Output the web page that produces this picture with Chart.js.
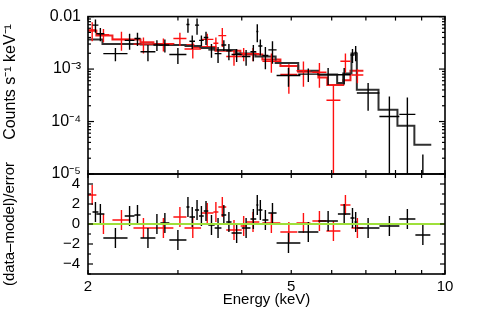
<!DOCTYPE html>
<html><head><meta charset="utf-8">
<script src="https://cdn.jsdelivr.net/npm/chart.js@4.4.1/dist/chart.umd.min.js"></script>
<style>
html,body{margin:0;padding:0;background:#fff;}
#wrap{position:relative;width:491px;height:316px;}
canvas{position:absolute;left:0;top:0;}
</style></head><body>
<div id="wrap"><canvas id="top" width="491" height="316"></canvas><canvas id="bot" width="491" height="316"></canvas></div>
<script>
// ---- data (energies in keV, rates in counts s^-1 keV^-1) ----
const blackLo = [2.041,2.077,2.143,2.36,2.466,2.534,2.686,2.772,2.886,3.117,3.16,3.24,3.30,3.37,3.44,3.54,3.65,3.73,3.82,4.00,4.16,4.27,4.31,4.39,4.51,4.68,5.16,5.65,6.17,6.53,6.65,6.72,7.44,8.14,8.75];
const blackHi = [2.096,2.153,2.390,2.466,2.534,2.710,2.772,2.886,3.117,3.16,3.24,3.30,3.37,3.44,3.54,3.65,3.73,3.82,4.00,4.16,4.27,4.31,4.39,4.51,4.68,5.21,5.65,6.17,6.53,6.65,6.72,7.44,8.14,8.75,9.36];
const blackRate = [6.87e-3,4.72e-3,1.97e-3,3.53e-3,3.83e-3,2.14e-3,2.87e-3,2.87e-3,1.89e-3,7.06e-3,3.38e-3,6.87e-3,3.53e-3,4.0e-3,2.32e-3,1.97e-3,2.87e-3,2.23e-3,1.89e-3,1.74e-3,2.14e-3,5.2e-3,2.75e-3,1.81e-3,2.32e-3,7.54e-4,8.0e-4,7.75e-4,7.8e-4,1.86e-3,2.08e-3,3.5e-4,1.25e-4,1.37e-4,5e-6];
const blackErr = [1.95e-3,1.34e-3,0.56e-3,1.19e-3,1.09e-3,0.73e-3,0.66e-3,0.80e-3,0.64e-3,2.14e-3,0.96e-3,2.34e-3,0.81e-3,1.13e-3,0.67e-3,0.66e-3,0.66e-3,0.76e-3,0.53e-3,0.58e-3,0.73e-3,1.95e-3,0.93e-3,0.82e-3,1.06e-3,2.96e-4,2.3e-4,2.76e-4,2.7e-4,0.56e-3,0.67e-3,1.9e-4,1.75e-4,1.51e-4,1.86e-5];
const blackResid = [1.2,1.0,-1.4,0.8,0.9,-1.4,0.0,0.1,-1.6,1.7,0.7,1.4,0.8,1.3,-0.1,-0.4,0.9,0.2,-0.9,-0.4,0.5,1.9,1.4,0.4,1.1,-1.9,-0.8,0.3,1.0,0.6,0.2,-0.4,-0.2,0.5,-1.1];

const redLo = [2.0,2.09,2.233,2.455,2.686,2.939,3.09,3.33,3.52,3.60,3.73,3.98,4.09,4.39,4.76,5.12,5.50,5.86,6.24,6.56];
const redHi = [2.077,2.20,2.422,2.686,2.939,3.117,3.33,3.52,3.60,3.73,4.00,4.09,4.33,4.76,5.14,5.45,5.86,6.24,6.53,6.92];
const redRate = [5.58e-3,4.53e-3,3.68e-3,2.99e-3,2.99e-3,3.83e-3,2.42e-3,3.68e-3,3.11e-3,4.34e-3,1.74e-3,1.97e-3,1.97e-3,1.41e-3,7.9e-4,9.3e-4,8.7e-4,2.55e-4,1.41e-3,7.7e-4];
const redErr = [2.2e-3,1.28e-3,1.45e-3,1.0e-3,0.84e-3,1.09e-3,0.83e-3,1.04e-3,0.89e-3,1.72e-3,0.58e-3,0.56e-3,0.56e-3,0.56e-3,4.5e-4,4.7e-4,4.3e-4,2.45e-4,5.6e-4,2.35e-4];
const redResid = [2.9,0.0,0.4,-0.4,-0.4,0.7,-0.4,1.1,1.2,1.7,-0.6,-0.2,0.2,0.1,-0.8,0.1,0.3,-0.7,1.9,-0.4];

const blackModelEdges = [2.0,2.135,2.534,2.772,3.104,3.320,3.552,3.889,4.254,4.66,5.16,5.65,6.15,6.32,6.56,6.72,7.41,8.07,8.71,9.40];
const blackModelValues = [3.68e-3,2.99e-3,2.95e-3,2.87e-3,2.75e-3,2.53e-3,2.32e-3,1.97e-3,1.74e-3,1.30e-3,9.28e-4,7.86e-4,5.40e-4,8.19e-4,1.97e-3,4.05e-4,1.68e-4,8.3e-5,3.6e-5];
const redModelEdges = [2.0,2.077,2.233,2.534,2.686,2.939,3.217,3.552,3.976,4.390,4.762,5.16,5.65,5.883,6.32,6.53,6.922];
const redModelValues = [5.35e-3,4.34e-3,3.68e-3,3.25e-3,2.99e-3,2.87e-3,2.63e-3,2.23e-3,1.89e-3,1.53e-3,1.14e-3,8.90e-4,6.94e-4,4.99e-4,6.13e-4,9.28e-4];

const xTickValues = [2,5,10];
const xTickLabels = ['2','5','10'];
const xMinorValues = [3,4,6,7,8,9];
const topYTickValues = [1e-2,1e-3,1e-4,1e-5];
const topYTickLabels = ['0.01','10\u207B\u00B3','10\u207B\u2074','10\u207B\u2075'];
const residTickValues = [4,2,0,-2,-4];
const residTickLabels = ['4','2','0','\u22122','\u22124'];
const residMinorValues = [5,3,1,-1,-3,-5];

// ---- helpers ----
const FONT = "'Liberation Sans', Arial, Helvetica, sans-serif";
function crosses(lo, hi, val, err, floor) {
  const pts = [];
  for (let i = 0; i < lo.length; i++) {
    const c = Math.sqrt(lo[i] * hi[i]);
    pts.push({x: lo[i], y: val[i]}, {x: hi[i], y: val[i]}, {x: c, y: null});
    pts.push({x: c, y: Math.max(val[i] - err[i], floor)}, {x: c, y: val[i] + err[i]}, {x: c, y: null});
  }
  return pts;
}
function steps(edges, vals) {
  const pts = [];
  for (let i = 0; i < vals.length; i++) {
    pts.push({x: edges[i], y: vals[i]}, {x: edges[i + 1], y: vals[i]});
  }
  return pts;
}
function frame(yMajor, yMinor, yMajLen, yMinLen) {
  return {
    id: 'frame',
    afterDatasetsDraw(chart) {
      const {ctx, chartArea: a, scales} = chart;
      ctx.save();
      ctx.strokeStyle = '#000';
      ctx.lineWidth = 1.2;
      const seg = (x1, y1, x2, y2) => { ctx.beginPath(); ctx.moveTo(x1, y1); ctx.lineTo(x2, y2); ctx.stroke(); };
      xTickValues.concat(xMinorValues).forEach(v => {
        const px = scales.x.getPixelForValue(v);
        seg(px, a.bottom, px, a.bottom - 4);
        seg(px, a.top, px, a.top + 4);
      });
      const yt = (v, len) => {
        const py = scales.y.getPixelForValue(v);
        seg(a.left, py, a.left + len, py);
        seg(a.right, py, a.right - len, py);
      };
      yMajor.forEach(v => yt(v, yMajLen));
      yMinor.forEach(v => yt(v, yMinLen));
      ctx.lineWidth = 1.6;
      ctx.strokeRect(a.left, a.top, a.right - a.left, a.bottom - a.top);
      ctx.restore();
    }
  };
}
const logMinor = [];
[1e-5, 1e-4, 1e-3].forEach(d => { for (let k = 2; k <= 9; k++) logMinor.push(d * k); });

const common = {
  responsive: false, animation: false, events: [],
  plugins: {legend: {display: false}, tooltip: {enabled: false}},
  elements: {point: {radius: 0, hoverRadius: 0}, line: {tension: 0, borderCapStyle: 'butt', fill: false}},
  spanGaps: false
};
const tickFont = {family: FONT, size: 15};
const titleFont = {family: FONT, size: 15};

new Chart(document.getElementById('top'), {
  type: 'line',
  data: {datasets: [
    {data: crosses(blackLo, blackHi, blackRate, blackErr, 1e-8), borderColor: '#000', borderWidth: 1.4, order: 1},
    {data: crosses(redLo, redHi, redRate, redErr, 1e-8), borderColor: '#ff1010', borderWidth: 1.4, order: 2},
    {data: steps(blackModelEdges, blackModelValues), borderColor: '#303030', borderWidth: 2, order: 3},
    {data: steps(redModelEdges, redModelValues), borderColor: '#f02020', borderWidth: 2, order: 4}
  ]},
  options: Object.assign({}, common, {
    layout: {padding: {top: 8, right: 46, bottom: 142, left: 0}},
    scales: {
      x: {type: 'logarithmic', min: 2, max: 10, display: false},
      y: {type: 'logarithmic', min: 1e-5, max: 1e-2,
        afterFit: s => { s.width = 88; },
        afterBuildTicks: s => { s.ticks = topYTickValues.map(v => ({value: v})); },
        grid: {display: false, drawTicks: false}, border: {display: false},
        ticks: {padding: 7, font: {family: FONT, size: 16}, color: '#000', autoSkip: false, callback: (v, i) => topYTickLabels[i]},
        title: {display: true, text: '      Counts s\u207B\u00B9 keV\u207B\u00B9', font: {family: FONT, size: 16}, color: '#000', padding: {top: 1, bottom: 0}}
      }
    }
  }),
  plugins: [frame(topYTickValues, logMinor, 6, 3)]
});

new Chart(document.getElementById('bot'), {
  type: 'line',
  data: {datasets: [
    {data: [{x: 2, y: 0}, {x: 10, y: 0}], borderColor: '#9ee03a', borderWidth: 2, order: 0},
    {data: crosses(blackLo, blackHi, blackResid, blackResid.map(() => 1), -100), borderColor: '#000', borderWidth: 1.4, order: 1},
    {data: crosses(redLo, redHi, redResid, redResid.map(() => 1), -100), borderColor: '#ff1010', borderWidth: 1.4, order: 2}
  ]},
  options: Object.assign({}, common, {
    layout: {padding: {top: 174, right: 46, bottom: 0, left: 0}},
    scales: {
      x: {type: 'logarithmic', min: 2, max: 10,
        afterFit: s => { s.height = 42; },
        afterBuildTicks: s => { s.ticks = xTickValues.map(v => ({value: v})); },
        grid: {display: false, drawTicks: false}, border: {display: false},
        ticks: {padding: 4, font: tickFont, color: '#000', autoSkip: false, maxRotation: 0, callback: (v, i) => xTickLabels[i]},
        title: {display: true, text: 'Energy (keV)', font: titleFont, color: '#000', padding: {top: 0, bottom: 7}}
      },
      y: {type: 'linear', min: -5, max: 5,
        afterFit: s => { s.width = 88; },
        afterBuildTicks: s => { s.ticks = residTickValues.map(v => ({value: v})); },
        grid: {display: false, drawTicks: false}, border: {display: false},
        ticks: {padding: 8, font: tickFont, color: '#000', autoSkip: false, callback: (v, i) => residTickLabels[i]},
        title: {display: true, text: '(data\u2013model)/error', font: titleFont, color: '#000', padding: {top: 1, bottom: 0}}
      }
    }
  }),
  plugins: [frame(residTickValues, residMinorValues, 5, 3)]
});
</script>
</body></html>
